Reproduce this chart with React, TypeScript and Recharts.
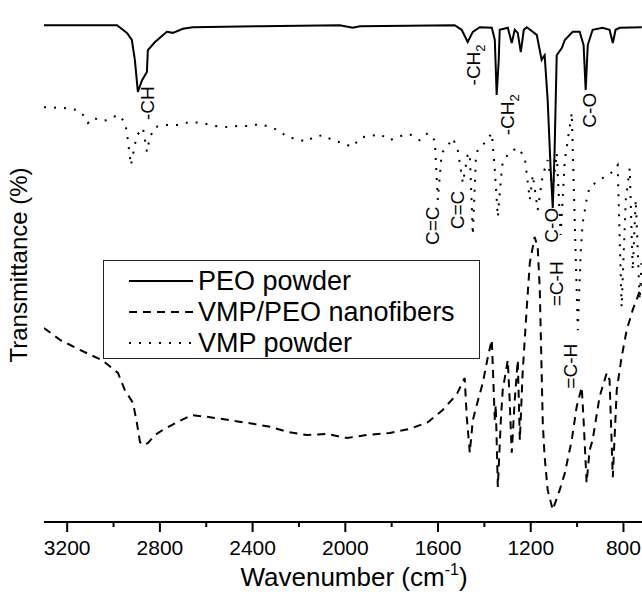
import { LineChart, Line, XAxis, YAxis, ReferenceDot, Legend } from "recharts";

// ─── Data ───────────────────────────────────────────────
// wavenumber (cm-1) / transmittance (arbitrary, offset per curve)
const peoWavenumber = [
    3300, 2985, 2942, 2921, 2908, 2895, 2877, 2856, 2852, 2821, 2770, 2744, 2701, 2658, 2369,
    2024, 1968, 1937, 1528, 1498, 1472, 1450, 1420, 1368, 1355, 1347, 1338, 1334, 1299, 1282,
    1269, 1256, 1243, 1230, 1217, 1174, 1153, 1140, 1127, 1114, 1105, 1097, 1088, 1066, 1053,
    1019, 989, 972, 963, 954, 933, 890, 860, 846, 834, 816, 721,
];
const peoTransmittance = [
    97.6, 97.6, 96.1, 94.7, 90.8, 84.5, 86.8, 88.4, 92.7, 94.3, 96.3, 96.1, 96.9, 97.2, 97.4,
    97.6, 97.1, 97.4, 97.6, 96.7, 94.3, 96.3, 97.2, 97.1, 94.7, 83.9, 90.8, 96.7, 97.1, 94.1,
    96.7, 96.1, 92.3, 96.7, 97.2, 95.7, 90.8, 91.7, 82.9, 69.2, 61.7, 73.1, 91.7, 93.1, 94.7,
    96.3, 96.3, 93.7, 84.9, 93.7, 96.7, 97.1, 96.7, 94.1, 96.7, 97.1, 97.2,
];

const nanoWavenumber = [
    3300, 3231, 3145, 3050, 2981, 2951, 2916, 2899, 2886, 2873, 2852, 2821, 2787, 2727, 2662,
    2584, 2498, 2412, 2325, 2248, 2166, 2080, 1993, 1907, 1808, 1722, 1644, 1580, 1519, 1485,
    1476, 1463, 1450, 1433, 1407, 1385, 1368, 1355, 1351, 1342, 1329, 1321, 1299, 1291, 1282,
    1269, 1256, 1247, 1235, 1217, 1204, 1183, 1170, 1161, 1148, 1140, 1127, 1105, 1075, 1053,
    1023, 1002, 980, 972, 959, 946, 933, 903, 872, 860, 846, 829, 808, 786, 760, 739, 721,
];
const nanoTransmittance = [
    38.1, 35.8, 33.8, 31.8, 29.3, 25.9, 23.4, 19.4, 15.7, 15.1, 15.5, 17.1, 18.1, 19.6, 21.0,
    20.6, 20.0, 19.4, 18.7, 17.7, 17.1, 17.3, 16.5, 17.1, 17.5, 18.3, 19.6, 22.0, 25.1, 28.3,
    20.6, 13.6, 20.0, 23.0, 27.3, 32.4, 35.8, 20.0, 23.0, 6.9, 20.0, 25.9, 31.8, 24.0, 13.6,
    24.0, 31.8, 16.1, 29.3, 42.2, 50.9, 56.0, 54.0, 45.6, 19.4, 12.8, 6.3, 2.4, 6.3, 9.6,
    16.1, 22.6, 26.5, 20.0, 7.7, 14.1, 16.1, 24.6, 29.3, 27.9, 8.8, 25.9, 32.4, 37.7, 41.7, 44.2, 46.6,
];

const vmpWavenumber = [
    3300, 3201, 3153, 3123, 3110, 3089, 3046, 3024, 2981, 2951, 2942, 2925, 2908, 2899, 2873,
    2856, 2843, 2821, 2770, 2722, 2670, 2619, 2563, 2511, 2463, 2412, 2369, 2325, 2291, 2248,
    2205, 2166, 2140, 2097, 2054, 2015, 1972, 1929, 1894, 1851, 1808, 1765, 1722, 1679, 1644,
    1614, 1601, 1584, 1562, 1536, 1515, 1493, 1472, 1463, 1450, 1437, 1429, 1398, 1368, 1355,
    1342, 1329, 1321, 1291, 1256, 1226, 1204, 1191, 1170, 1148, 1127, 1105, 1088, 1071, 1053,
    1023, 1010, 997, 984, 976, 959, 946, 903, 846, 825, 808, 790, 773, 760, 747, 730, 721,
];
const vmpTransmittance = [
    81.5, 81.3, 80.9, 79.6, 78.4, 79.4, 78.8, 79.0, 80.0, 78.6, 76.4, 70.1, 74.1, 76.0, 77.4,
    72.7, 75.6, 77.6, 78.0, 78.0, 78.6, 78.4, 77.8, 77.6, 77.8, 77.8, 78.2, 77.6, 77.0, 75.6,
    75.2, 74.7, 75.6, 76.0, 75.0, 74.5, 73.7, 75.6, 75.8, 76.2, 75.0, 75.8, 76.2, 75.0, 76.4,
    75.0, 63.3, 72.5, 73.7, 75.4, 73.1, 66.6, 72.1, 72.5, 56.4, 71.1, 73.1, 74.5, 76.4, 69.2,
    59.9, 67.2, 70.7, 72.7, 73.5, 71.7, 63.3, 68.2, 61.3, 68.2, 71.1, 65.2, 72.5, 56.4, 71.1,
    80.4, 58.7, 37.7, 53.4, 58.7, 63.3, 65.8, 67.2, 68.8, 70.1, 42.2, 63.3, 69.5, 49.5, 63.3, 43.6, 51.5,
];

const seriesNames = ["PEO powder", "VMP/PEO nanofibers", "VMP powder"];

const xTicks = [3200, 3000, 2800, 2600, 2400, 2200, 2000, 1800, 1600, 1400, 1200, 1000, 800];
const xMajorTicks = [3200, 2800, 2400, 2000, 1600, 1200, 800];

// band assignments (rotated labels)
const bandText = ["-CH", "-CH", "-CH", "C-O", "C=C", "C=C", "C-O", "=C-H", "=C-H"];
const bandSub = ["", "2", "2", "", "", "", "", "", ""];
const bandWavenumber = [2852, 1446, 1299, 946, 1623, 1515, 1110, 1088, 1028];
const bandTransmittance = [82.3, 89.8, 80.0, 80.9, 58.2, 61.3, 58.3, 46.8, 30.6];

const seriesDash: Record<string, string | undefined> = {
    "PEO powder": undefined,
    "VMP/PEO nanofibers": "8 6",
    "VMP powder": "2 8",
};

const toPoints = (wn: number[], t: number[]) => wn.map((w, i) => ({ wn: w, t: t[i] }));

const FONT = '"Liberation Sans", Arial, Helvetica, sans-serif';

// ─── Ticks & titles ─────────────────────────────────────
function WavenumberTick({ x, y, payload }: any) {
    const major = xMajorTicks.includes(payload.value);
    return (
        <g>
            <line x1={x} x2={x} y1={y} y2={y + (major ? 10 : 5)} stroke="#000" strokeWidth={2} />
            {major && (
                <text x={x} y={y + 33} textAnchor="middle" fontSize={21} fill="#000" fontFamily={FONT}>
                    {payload.value}
                </text>
            )}
        </g>
    );
}

function XTitle({ viewBox }: any) {
    const cx = (viewBox?.x ?? 44) + (viewBox?.width ?? 598) / 2 + 11;
    return (
        <text x={cx} y={586} textAnchor="middle" fontSize={26} fill="#000" fontFamily={FONT}>
            Wavenumber (cm
            <tspan dy={-11} fontSize={16}>-1</tspan>
            <tspan dy={11}>)</tspan>
        </text>
    );
}

function YTitle() {
    const x = 27;
    const y = 265;
    return (
        <text
            x={x}
            y={y}
            transform={`rotate(-90 ${x} ${y})`}
            textAnchor="middle"
            fontSize={24}
            fill="#000"
            fontFamily={FONT}
        >
            Transmittance (%)
        </text>
    );
}

function bandLabel(text: string, sub: string) {
    return (props: any) => {
        const { cx, cy } = props;
        return (
            <text
                x={cx}
                y={cy}
                dy="0.35em"
                transform={`rotate(-90 ${cx} ${cy})`}
                textAnchor="middle"
                fontSize={19}
                fill="#000"
                fontFamily={FONT}
            >
                {text}
                {sub && (
                    <tspan dy={5} fontSize={13}>
                        {sub}
                    </tspan>
                )}
            </text>
        );
    };
}

// ─── Legend ─────────────────────────────────────────────
function SpectraLegend({ payload }: any) {
    // keep the drawing order, not the alphabetical one
    const items = [...(payload || [])].sort(
        (a: any, b: any) => seriesNames.indexOf(a.value) - seriesNames.indexOf(b.value),
    );
    return (
        <div
            style={{
                width: 377,
                height: 99,
                boxSizing: "border-box",
                border: "1.5px solid #222",
                background: "#fff",
            }}
        >
            <svg width={374} height={96} style={{ display: "block" }}>
                {items.map((entry: any, i: number) => {
                    const base = 29 + i * 31;
                    return (
                        <g key={entry.value}>
                            <line
                                x1={25}
                                x2={89}
                                y1={base - 9}
                                y2={base - 9}
                                stroke="#000"
                                strokeWidth={2}
                                strokeDasharray={seriesDash[entry.value]}
                            />
                            <text x={94} y={base} fontSize={27} fill="#000" fontFamily={FONT}>
                                {entry.value}
                            </text>
                        </g>
                    );
                })}
            </svg>
        </div>
    );
}

// ─── Component ──────────────────────────────────────────
export default function App() {
    return (
        <div
            style={{
                position: "absolute",
                left: 0,
                top: 0,
                width: 642,
                height: 592,
                overflow: "hidden",
                background: "#fff",
                fontFamily: FONT,
            }}
        >
            <LineChart width={642} height={592} margin={{ top: 13, right: 0, bottom: 0, left: 44 }}>
                <XAxis
                    dataKey="wn"
                    type="number"
                    domain={[720, 3300]}
                    reversed
                    allowDataOverflow
                    ticks={xTicks}
                    interval={0}
                    tickSize={0}
                    tickMargin={0}
                    tickLine={false}
                    tick={<WavenumberTick />}
                    axisLine={{ stroke: "#000", strokeWidth: 2 }}
                    height={70}
                    label={{ content: XTitle }}
                />
                <YAxis
                    type="number"
                    domain={[0, 100]}
                    width={0}
                    tick={false}
                    tickLine={false}
                    axisLine={{ stroke: "#000", strokeWidth: 2 }}
                />

                <Line
                    data={toPoints(peoWavenumber, peoTransmittance)}
                    dataKey="t"
                    name={seriesNames[0]}
                    type="linear"
                    stroke="#000"
                    strokeWidth={2}
                    dot={false}
                    activeDot={false}
                    isAnimationActive={false}
                />
                <Line
                    data={toPoints(nanoWavenumber, nanoTransmittance)}
                    dataKey="t"
                    name={seriesNames[1]}
                    type="linear"
                    stroke="#000"
                    strokeWidth={2}
                    strokeDasharray={seriesDash[seriesNames[1]]}
                    dot={false}
                    activeDot={false}
                    isAnimationActive={false}
                />
                <Line
                    data={toPoints(vmpWavenumber, vmpTransmittance)}
                    dataKey="t"
                    name={seriesNames[2]}
                    type="linear"
                    stroke="#000"
                    strokeWidth={2}
                    strokeDasharray={seriesDash[seriesNames[2]]}
                    dot={false}
                    activeDot={false}
                    isAnimationActive={false}
                />

                {bandText.map((text, i) => (
                    <ReferenceDot
                        key={i}
                        x={bandWavenumber[i]}
                        y={bandTransmittance[i]}
                        r={1}
                        shape={bandLabel(text, bandSub[i])}
                    />
                ))}

                <Legend
                    layout="vertical"
                    align="center"
                    verticalAlign="middle"
                    content={<SpectraLegend />}
                    wrapperStyle={{ left: 103, top: 260, width: 377, height: 99 }}
                />
            </LineChart>
            <svg
                width={60}
                height={592}
                style={{ position: "absolute", left: 0, top: 0, pointerEvents: "none" }}
            >
                <YTitle />
            </svg>
        </div>
    );
}
